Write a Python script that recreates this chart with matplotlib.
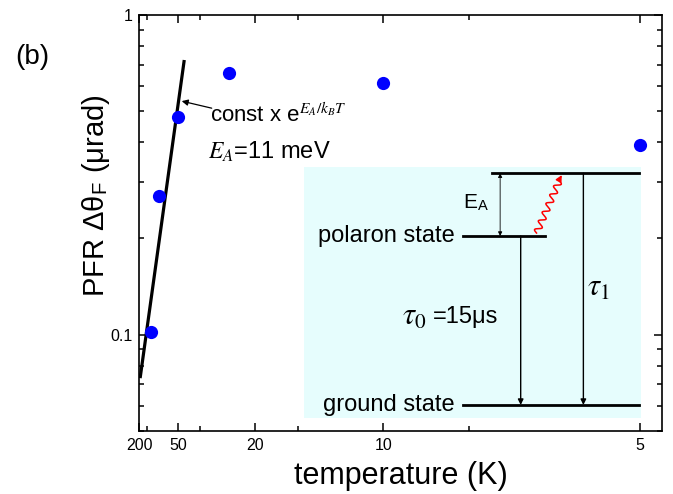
import numpy as np
import matplotlib
matplotlib.use('Agg')
import matplotlib.pyplot as plt

plt.rcParams['font.family'] = ['Liberation Sans', 'DejaVu Sans']
plt.rcParams['mathtext.fontset'] = 'stix'

# measured points: temperature (K) and PFR amplitude (urad)
temps = [106, 79, 50, 25, 10, 5]
pfr = [0.102, 0.272, 0.48, 0.657, 0.612, 0.392]

# activated fit line, end points
fit_temps = [185, 44.6]
fit_pfr = [0.074, 0.715]

major_temps = [200, 50, 20, 10, 5]
major_labels = ['200', '50', '20', '10', '5']
minor_temps = [125, 35, 15, 7.5]

fig = plt.figure(figsize=(6.73, 4.94), dpi=100)
ax = fig.add_axes([139.3 / 673, 1 - 431 / 494, 522.4 / 673, 416 / 494])

inv = lambda t: 1.0 / np.asarray(t, dtype=float)

ax.plot(inv(fit_temps), fit_pfr, color='black', linewidth=2.3, zorder=3)
ax.plot(inv(temps), pfr, 'o', color='#0000ff', markersize=9.5,
        markeredgewidth=0, zorder=4)

ax.set_yscale('log')
ax.set_ylim(0.05, 1)
ax.set_xlim(0.005, 0.2 + 21.7 / 2568)
ax.set_yticks([0.1, 1])
ax.set_yticklabels(['0.1', '1'])
ax.set_xticks(inv(major_temps))
ax.set_xticklabels(major_labels)
ax.set_xticks(inv(minor_temps), minor=True)

ax.tick_params(which='both', direction='in', top=True, right=True,
               labelsize=11.5, width=1.1)
ax.tick_params(which='major', length=6, pad=5)
ax.tick_params(which='minor', length=3.5)
for s in ax.spines.values():
    s.set_linewidth(1.2)

ax.set_xlabel('temperature (K)', fontsize=22, va='center')
ax.xaxis.set_label_coords(0.50, -0.108)
ax.set_ylabel('PFR Δθ$_\\mathregular{F}$ (μrad)', fontsize=21, va='center')
ax.yaxis.set_label_coords(-0.083, 0.567)

# fit annotation
ax.annotate('', xy=(0.0812, 0.793), xytext=(0.1386, 0.776),
            xycoords='axes fraction', textcoords='axes fraction',
            arrowprops=dict(arrowstyle='-|>', color='black', lw=0.9,
                            mutation_scale=9, shrinkA=0, shrinkB=0))
ax.text(0.1357, 0.7435, r'const x e$^{E_A/k_BT}$', transform=ax.transAxes,
        fontsize=16, va='baseline', ha='left')
ax.text(0.1315, 0.6555, r'$E_A$=11 meV', transform=ax.transAxes,
        fontsize=17, va='baseline', ha='left')

fig.text(15 / 673, 1 - 57 / 494, '(b)', fontsize=20, va='center', ha='left')

# level diagram inset
ins = fig.add_axes([304 / 673, 1 - 418 / 494, 337 / 673, 251 / 494])
ins.set_facecolor('#e6fdfd')
ins.set_xlim(0, 1)
ins.set_ylim(0, 1)
ins.set_xticks([])
ins.set_yticks([])
for s in ins.spines.values():
    s.set_visible(False)

lvl_top, lvl_pol, lvl_gnd = 0.975, 0.725, 0.052
ins.plot([0.557, 0.994], [lvl_top, lvl_top], color='black', lw=2)
ins.plot([0.471, 0.715], [lvl_pol, lvl_pol], color='black', lw=2)
ins.plot([0.471, 0.994], [lvl_gnd, lvl_gnd], color='black', lw=2)

ins.text(0.448, lvl_pol, 'polaron state', fontsize=17, ha='right', va='center')
ins.text(0.448, lvl_gnd, 'ground state', fontsize=17, ha='right', va='center')

ins.annotate('', xy=(0.582, lvl_pol), xytext=(0.582, lvl_top),
             arrowprops=dict(arrowstyle='<|-|>', color='black', lw=0.6,
                             mutation_scale=6, shrinkA=0, shrinkB=0))
ins.text(0.509, 0.857, r'E$_\mathregular{A}$', fontsize=15, ha='center',
         va='center')

ins.annotate('', xy=(0.643, lvl_gnd), xytext=(0.643, lvl_pol),
             arrowprops=dict(arrowstyle='-|>', color='black', lw=1.0,
                             mutation_scale=8, shrinkA=0, shrinkB=0))
ins.annotate('', xy=(0.829, lvl_gnd), xytext=(0.829, lvl_top),
             arrowprops=dict(arrowstyle='-|>', color='black', lw=1.0,
                             mutation_scale=8, shrinkA=0, shrinkB=0))
ins.text(0.29, 0.404, r'$\tau_0$', fontsize=22, ha='left', va='center')
ins.text(0.383, 0.404, '=15μs', fontsize=17, ha='left', va='center')
ins.text(0.84, 0.518, r'$\tau_1$', fontsize=22, ha='left', va='center')

# red wavy excitation arrow (drawn in pixel units of the inset box)
w_px, h_px = 337.0, 251.0
x0, y0 = 0.690 * w_px, 0.737 * h_px
x1, y1 = 0.765 * w_px, 0.968 * h_px
dx, dy = x1 - x0, y1 - y0
L = np.hypot(dx, dy)
ux, uy = dx / L, dy / L
nx, ny = -uy, ux
s = np.linspace(0, L - 6, 200)
amp = 3.2 * np.sin(2 * np.pi * s / 9.5)
wx = (x0 + ux * s + nx * amp) / w_px
wy = (y0 + uy * s + ny * amp) / h_px
ins.plot(wx, wy, color='red', lw=1.1)
ins.annotate('', xy=(x1 / w_px, y1 / h_px), xytext=(wx[-1], wy[-1]),
             arrowprops=dict(arrowstyle='-|>', color='red', lw=1.1,
                             mutation_scale=9, shrinkA=0, shrinkB=0))

fig.savefig('out.png', dpi=100)
